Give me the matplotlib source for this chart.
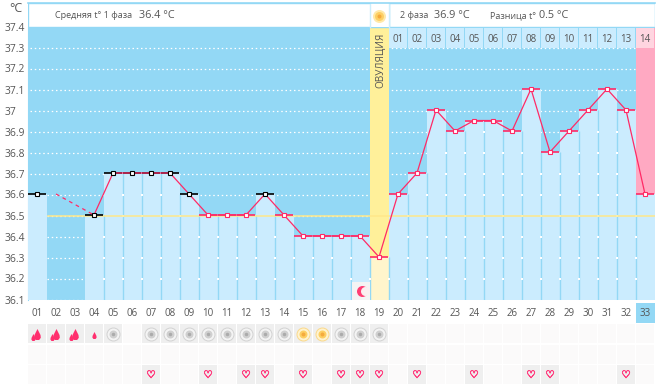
import numpy as np
import matplotlib
matplotlib.use("Agg")
import matplotlib.pyplot as plt
import matplotlib.patheffects as pe
from matplotlib.path import Path

plt.rcParams["font.family"] = ["Open Sans", "DejaVu Sans"]

# temperature per cycle day, days 2 and 3 were not measured
days = np.arange(1, 34)
temps = [36.6, np.nan, np.nan, 36.5, 36.7, 36.7, 36.7, 36.7, 36.6, 36.5, 36.5,
         36.5, 36.6, 36.5, 36.4, 36.4, 36.4, 36.4, 36.3, 36.6, 36.7, 37.0, 36.9,
         36.95, 36.95, 36.9, 37.1, 36.8, 36.9, 37.0, 37.1, 37.0, 36.6]
black_days = [1, 4, 5, 6, 7, 8, 9, 13]
gap_days = [2, 4]
gap_temps = [36.6, 36.5]
y_labels = ["37.4", "37.3", "37.2", "37.1", "37", "36.9", "36.8", "36.7", "36.6",
            "36.5", "36.4", "36.3", "36.2", "36.1"]
y_values = [37.4, 37.3, 37.2, 37.1, 37.0, 36.9, 36.8, 36.7, 36.6, 36.5, 36.4,
            36.3, 36.2, 36.1]
average_temp = 36.5
ovulation_day = 19
phase2_labels = ["01", "02", "03", "04", "05", "06", "07", "08", "09", "10", "11",
                 "12", "13", "14"]
big_drop_days = [1, 2, 3]
small_drop_days = [4]
gray_days = [5, 7, 8, 9, 10, 11, 12, 13, 14, 17, 18, 19]
orange_days = [15, 16]
heart_days = [7, 10, 12, 13, 15, 17, 18, 19, 21, 24, 27, 28, 32]
moon_day = 18

BLUE = "#93d8f5"
LIGHT = "#cbecfe"
PINK = "#ff2a66"
TEXT = "#555555"
W, H = 662, 388
LEFT, RIGHT = 27.5, 654.5
temps = np.array(temps)


def axes_px(fig, top, bottom):
    return fig.add_axes([LEFT / W, 1 - bottom / H, (RIGHT - LEFT) / W, (bottom - top) / H])


def d(px):
    # marker size for a diameter in pixels
    return (px * 0.72) ** 2


fig = plt.figure(figsize=(W / 100, H / 100), dpi=100, facecolor="white")

# main chart, y runs 210 px per degree
ax = axes_px(fig, 27, 300)
ax.set_xlim(0.5, 33.5)
ax.set_ylim(36.1 + (299 - 300) / 210, 36.1 + (299 - 27) / 210)
ax.set_facecolor(BLUE)
for s in ax.spines.values():
    s.set_visible(False)
ax.spines["left"].set_visible(True)
ax.spines["left"].set_color(BLUE)
ax.set_xticks([])
ax.set_yticks([])

bottom = ax.get_ylim()[0]
grid_shift = 0.005
for v in y_values[1:]:
    ax.plot([0.62, 33.5], [v - grid_shift] * 2, color="white", lw=0.9,
            ls=(0, (1.2, 2.2)), zorder=1)

# ovulation column and the pink last day
ax.axvspan(ovulation_day - 0.5, ovulation_day + 0.5, color="#fff09a", lw=0, zorder=2)
ax.fill_between([32.5, 33.5], temps[-1], ax.get_ylim()[1], color="#ffa9c2", lw=0, zorder=2)

# bars under the temperature points
for day, t in zip(days, temps):
    if np.isnan(t):
        continue
    color = "#fff5cc" if day == ovulation_day else LIGHT
    ax.bar(day, t - bottom, bottom=bottom, width=1, color=color, lw=0, zorder=3)

# dividers go up to the lower of the two neighbours
for left_t, right_t, day in zip(temps[:-1], temps[1:], days[:-1]):
    if np.isnan(left_t) or np.isnan(right_t):
        continue
    top_t = min(left_t, right_t)
    ax.vlines(day + 0.5, bottom, top_t, color=BLUE, lw=1, zorder=4)
    levels = [v - grid_shift for v in y_values[:-1] if v < top_t - 0.01]
    ax.scatter([day + 0.5] * len(levels), levels, marker="s", s=0.6, color="white",
               lw=0, zorder=5)

ax.plot([1.6, 33.5], [average_temp - grid_shift] * 2, color="#ffe88a", lw=1.1, zorder=6)

# horizontal ticks, then line, then markers
for day, t in zip(days, temps):
    if np.isnan(t):
        continue
    c = "black" if day in black_days else PINK
    ax.plot([day - 0.47, day + 0.47], [t, t], color=c, lw=1.2, zorder=7,
            solid_capstyle="butt")
ax.plot(days[3:], temps[3:], color=PINK, lw=0.9, zorder=8)
ax.plot(gap_days, gap_temps, color=PINK, lw=0.9, ls=(0, (3, 3)), zorder=8)
for day, t in zip(days, temps):
    if np.isnan(t):
        continue
    c = "black" if day in black_days else PINK
    ax.plot(day, t, marker="s", ms=3.1, mfc="white", mec=c, mew=0.8, zorder=9)

# y labels sit 2 px below their level, left aligned
for lab, v in zip(y_labels, y_values):
    ax.annotate(lab, xy=(0, v), xycoords=ax.get_yaxis_transform(), xytext=(-22.5, -2),
                textcoords="offset pixels", ha="left", va="center", fontsize=7.4,
                color=TEXT, annotation_clip=False)

# moon for the ovulation forecast
moon_y = 36.1 + (299 - 290.5) / 210
ax.scatter(moon_day + 0.05, moon_y, marker="s", s=d(18), color="#f4f4f4", lw=0, zorder=6)
ax.scatter(moon_day + 0.09, moon_y, s=d(11), color="#ff3f74", lw=0, zorder=7)
ax.scatter(moon_day + 0.25, moon_y, s=d(9), color="#fbeff0", lw=0, zorder=8)

# header above the chart, in pixels from the figure top
top = axes_px(fig, 3, 48)
top.set_xlim(0.5, 33.5)
top.set_ylim(48, 3)
top.axis("off")
top.patch.set_alpha(0)
top.bar(16.0, 24, bottom=3, width=31, color="white", edgecolor=BLUE, lw=1, zorder=1,
        align="center")
top.bar(26.5, 24, bottom=3, width=14, color="white", edgecolor=BLUE, lw=1, zorder=1)
top.bar(ovulation_day, 24, bottom=3, width=1, color="white", lw=0, zorder=1)
for x in (ovulation_day - 0.5, ovulation_day + 0.5):
    top.plot([x, x], [3, 27], color="#cdeefc", lw=1, zorder=2)
top.plot([0.5, 33.5], [3, 3], color=BLUE, lw=1.2, zorder=2, clip_on=False)
for i, lab in enumerate(phase2_labels):
    day = ovulation_day + 1 + i
    color = "#ffd5e0" if lab == "14" else LIGHT
    top.bar(day, 20, bottom=28, width=0.93, color=color, lw=0, zorder=1)
    top.text(day, 39, lab, ha="center", va="center", fontsize=7, color=TEXT)
top.scatter(ovulation_day, 15.5, s=d(13), color="#ffe9a8", lw=0, zorder=3)
top.scatter(ovulation_day, 15.5, s=d(9), color="#fdcf63", lw=0, zorder=4)
top.scatter(ovulation_day, 15.5, s=d(4), color="#f4a93b", lw=0, zorder=5)


def header_text(x_px, s, size=6.5):
    top.annotate(s, xy=(0, 15.5), xycoords=top.get_yaxis_transform(), xytext=(x_px - LEFT, 0),
                 textcoords="offset pixels", ha="left", va="center", fontsize=size,
                 color=TEXT)


header_text(55, "Средняя t° 1 фаза")
header_text(139, "36.4 °C", 7.8)
header_text(400, "2 фаза")
header_text(434, "36.9 °C", 7.8)
header_text(490, "Разница t°")
header_text(539, "0.5 °C", 7.8)
ax.annotate("ОВУЛЯЦИЯ", xy=(ovulation_day, 1), xycoords=ax.get_xaxis_transform(), xytext=(1.5, -33),
            textcoords="offset pixels", ha="center", va="center", rotation=90, fontsize=7.2,
            color=TEXT, annotation_clip=False, zorder=10)
fig.text(9 / W, 1 - 8 / H, "°C", fontsize=9, color=TEXT, va="center")

# day numbers and symptom rows
strip = axes_px(fig, 303, 388)
strip.set_xlim(0.5, 33.5)
strip.set_ylim(388, 303)
strip.axis("off")
strip.patch.set_alpha(0)

row_tops = [324, 344.5, 365]
row_mid = [334, 354.5, 375]
for rt in row_tops:
    strip.bar(days, 19, bottom=rt, width=0.94, color="#fbfafa", lw=0, zorder=1)
strip.bar(33, 20, bottom=303, width=1, color=BLUE, lw=0, zorder=1)
for day in days:
    strip.text(day, 313, f"{day:02d}", ha="center", va="center", fontsize=7, color=TEXT,
               zorder=3)

marked = big_drop_days + small_drop_days + gray_days + orange_days
strip.bar(marked, 19, bottom=row_tops[0], width=0.94, color="#efefef", lw=0, zorder=2)
strip.bar(heart_days, 19, bottom=row_tops[2], width=0.94, color="#efefef", lw=0, zorder=2)

drop = Path([(0, 1), (0.55, -0.1), (0.6, -0.6), (0.3, -1), (-0.3, -1), (-0.6, -0.6),
             (-0.55, -0.1), (0, 1)], closed=True)
strip.scatter(np.array(big_drop_days) + 0.0, [334] * 3, marker=drop, s=d(11), color="#ff2f6e",
              lw=0, zorder=3)
strip.scatter(np.array(big_drop_days) - 0.21, [337] * 3, marker=drop, s=d(7), color="#ff2f6e",
              lw=0, zorder=3)
strip.scatter(small_drop_days, [335], marker=drop, s=d(7), color="#ff2f6e", lw=0, zorder=3)

strip.scatter(gray_days, [row_mid[0]] * len(gray_days), s=d(13), facecolor="#f4f4f4",
              edgecolor="#d2d2d2", lw=0.7, zorder=3)
strip.scatter(gray_days, [row_mid[0]] * len(gray_days), s=d(8), color="#d0d0d0", lw=0, zorder=4)
strip.scatter(gray_days, [row_mid[0]] * len(gray_days), s=d(3.5), color="#ababab", lw=0, zorder=5)
strip.scatter(orange_days, [row_mid[0]] * 2, s=d(13), facecolor="#fff3cf", edgecolor="#fbd98a",
              lw=0.7, zorder=3)
strip.scatter(orange_days, [row_mid[0]] * 2, s=d(8), color="#fdcf63", lw=0, zorder=4)
strip.scatter(orange_days, [row_mid[0]] * 2, s=d(4), color="#f5ab3d", lw=0, zorder=5)

for day in heart_days:
    strip.text(day, row_mid[2], "\u2661", ha="center", va="center", fontsize=7.5,
               color="#ff3f80", family="DejaVu Sans", zorder=3,
               path_effects=[pe.withStroke(linewidth=0.5, foreground="#ff3f80")])

fig.savefig("out.png", dpi=100)
